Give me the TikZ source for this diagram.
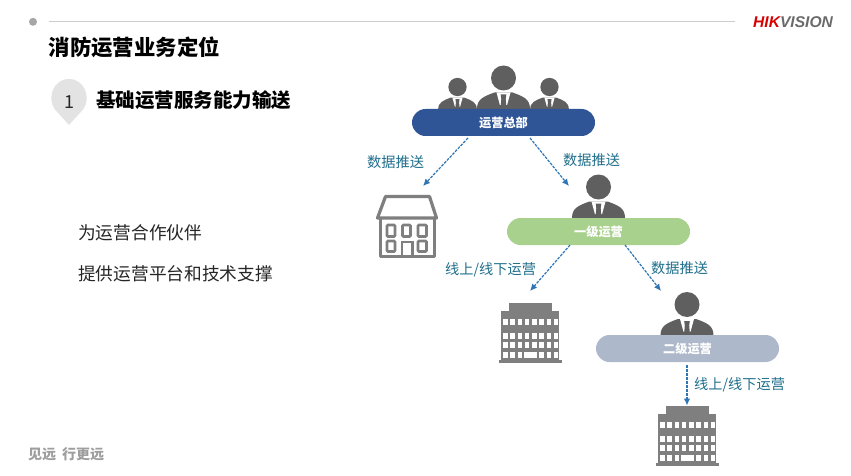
\documentclass[tikz,border=0pt]{standalone}
\usepackage{fontspec}
\setmainfont{Noto Sans CJK SC}
\newfontfamily\logofont{Liberation Sans}
\usetikzlibrary{arrows.meta}
\definecolor{pblue}{HTML}{2F5597}
\definecolor{pgreen}{HTML}{A9D18E}
\definecolor{pgrey}{HTML}{ADB9CA}
\definecolor{flow}{HTML}{2E75B6}
\definecolor{lab}{HTML}{1F6F8B}
\definecolor{suit}{HTML}{5F5F5F}
\definecolor{bld}{HTML}{7F7F7F}
\newcommand{\fsz}[1]{\fontsize{#1}{#1}\selectfont}
\tikzset{
  pill/.style={rounded corners=13.5pt,minimum width=183pt,minimum height=27pt,inner sep=0pt,text=white,font=\fsz{12.2}\bfseries},
  lbl/.style={text=lab,font=\fsz{14.2},inner sep=0pt},
  flowline/.style={flow,line width=1.2pt,dash pattern=on 2.8pt off 1.2pt,-{Latex[length=7pt,width=6.5pt]}},
  txt/.style={anchor=west,inner sep=0pt,text=black},
}
% person: head centre x, head y, scale
\newcommand{\person}[3]{%
  \begin{scope}[shift={(#1,#2)},scale=#3]
    \fill[suit] (0,0) circle (12.5);
    \fill[suit] (-26.5,31) .. controls (-26.5,21) and (-20,18.5) .. (-9,14.5) -- (9,14.5)
       .. controls (20,18.5) and (26.5,21) .. (26.5,31) -- cycle;
    \fill[white] (-7,14.5) -- (7,14.5) -- (3.6,27) -- (-3.6,27) -- cycle;
    \fill[suit] (-2.8,16.5) -- (2.8,16.5) -- (2.2,21) -- (3,31) -- (-3,31) -- (-2.2,21) -- cycle;
  \end{scope}}
% tower with top-left reference (top block begins at y)
\newcommand{\tower}[2]{%
  \begin{scope}[shift={(#1,#2)}]
    \fill[bld] (8.5,0) rectangle (52,10);
    \fill[bld] (1,8) rectangle (59,57.5);
    \fill[bld] (-1.5,57) rectangle (62,59.5);
    \foreach \yy in {15.9,29.5,39.2,48.5}{
      \foreach \k in {0,...,7}{
        \fill[white] ({3.2+\k*7.22},\yy) rectangle ++(4.5,6.2);
      }}
    \fill[white] (24.3,48.5) rectangle (36,54.7);
  \end{scope}}
\begin{document}
\begin{tikzpicture}[x=1pt,y=-1pt]
\useasboundingbox (0,0) rectangle (851,476);
\fill[white] (0,0) rectangle (851,476);
% header
\fill[black!35] (33,21.8) circle (4);
\draw[black!20,line width=1.2pt] (49,21.5) -- (735,21.5);
\node[txt] (logo) at (753,22.5) {\logofont\fsz{15.6}\bfseries\itshape\textcolor{red!85!black}{HIK}\textcolor{black!58}{VISION}};
\node[txt,font=\fsz{21.4}\bfseries] (title) at (48.5,47.5) {消防运营业务定位};
% pin
\fill[black!11] (69,125) -- (54.5,109) .. controls (47,98) and (53,79) .. (69,79) .. controls (85,79) and (91,98) .. (83.5,109) -- cycle;
\node[inner sep=0pt,font=\fsz{18},text=black!85] (num) at (69.5,102) {1};
\node[txt,font=\fsz{19.5}\bfseries] (sub) at (96,100.5) {基础运营服务能力输送};
\node[txt,font=\fsz{17.7},text=black!85] (b1) at (78,233) {为运营合作伙伴};
\node[txt,font=\fsz{17.7},text=black!85] (b2) at (78,274) {提供运营平台和技术支撑};
\node[txt,font=\fsz{14}\bfseries,text=black!38] (foot) at (28,454) {见远\hspace{6pt}行更远};
% people
\person{457.5}{87}{0.73}
\person{549.5}{87}{0.73}
\person{503.5}{78}{1}
\person{598.5}{187}{1}
\person{687}{304.5}{1}
% pills
\node[pill,fill=pblue] (hq) at (503.5,122.5) {运营总部};
\node[pill,fill=pgreen] (l1) at (598.5,231.5) {一级运营};
\node[pill,fill=pgrey] (l2) at (687.5,348.5) {二级运营};
% house
\draw[bld,line width=3.2pt,line join=round,fill=white] (385.5,196.5) -- (429.5,196.5) -- (436.5,218) -- (377.5,218) -- cycle;
\draw[bld,line width=3pt,line join=round] (380,218) -- (380,256.5) -- (434,256.5) -- (434,218);
\foreach \xa/\xb in {387/395,402.5/410.5,418/426.5}{
  \draw[bld,line width=2.6pt,rounded corners=1pt] (\xa,225) rectangle (\xb,236.5);
}
\foreach \xa/\xb in {387/395,418/426.5}{
  \draw[bld,line width=2.6pt,rounded corners=1pt] (\xa,241) rectangle (\xb,251.5);
}
\draw[bld,line width=2.6pt] (402,256.5) -- (402,242) -- (412.5,242) -- (412.5,256.5);
% towers
\tower{500}{303}
\tower{657}{406}
% connector ends
\coordinate (a1) at (468,138);
\coordinate (a2) at (423,186);
\coordinate (b1s) at (530,138);
\coordinate (b2e) at (569,186);
\coordinate (c1) at (570,245);
\coordinate (c2) at (530,291);
\coordinate (d1) at (625,245);
\coordinate (d2) at (661,291);
\coordinate (e1) at (687,365);
\coordinate (e2) at (687,405.5);
\draw[flowline] (a1) -- (a2);
\draw[flowline] (b1s) -- (b2e);
\draw[flowline] (c1) -- (c2);
\draw[flowline] (d1) -- (d2);
\draw[flowline] (e1) -- (e2);
% labels
\node[lbl,anchor=west] (t1) at (367,162) {数据推送};
\node[lbl,anchor=west] (t2) at (563,160) {数据推送};
\node[lbl,anchor=west] (t3) at (445,269.5) {线上/线下运营};
\node[lbl,anchor=west] (t4) at (651,268) {数据推送};
\node[lbl,anchor=west] (t5) at (694,384.5) {线上/线下运营};
\end{tikzpicture}
\end{document}
